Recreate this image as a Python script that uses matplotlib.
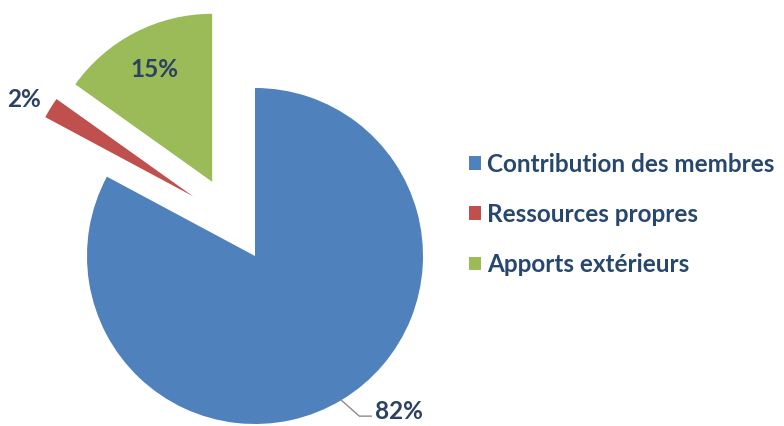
import numpy as np
import matplotlib.pyplot as plt

# Répartition des ressources (%)
categories = ['Contribution des membres', 'Ressources propres', 'Apports extérieurs']
valeurs = [82, 2, 15]
couleurs = ['#4F81BD', '#C0504D', '#9BBB59']
# décalage des secteurs détachés : (distance en fraction du rayon, direction en degrés)
decalage = [(0, 0), (0.51, 136), (0.51, 120)]

couleur_texte = '#2D4263'
couleur_legende = '#28476F'
police = ['Lato', 'DejaVu Sans']

fig = plt.figure(figsize=(7.84, 4.26), dpi=100)
ax = fig.add_axes([0, 0, 1, 1])

# Camembert en coordonnées pixels : centre (255, 170), rayon 168
rayon = 168
centre = (255, 170)
wedges, _ = ax.pie(valeurs, colors=couleurs, startangle=90, counterclock=False,
                   radius=rayon, center=centre, wedgeprops=dict(linewidth=0))
for w, (d, a) in zip(wedges, decalage):
    a = np.deg2rad(a)
    w.set_center((centre[0] + d * rayon * np.cos(a), centre[1] + d * rayon * np.sin(a)))

ax.set_xlim(0, 784)
ax.set_ylim(0, 426)
ax.set_aspect('equal')
ax.axis('off')

# Position le long de la bissectrice d'un secteur
def pos(w, frac, decal=0):
    ang = np.deg2rad((w.theta1 + w.theta2) / 2 + decal)
    cx, cy = w.center
    return cx + frac * w.r * np.cos(ang), cy + frac * w.r * np.sin(ang)

taille = 17.5

# 15 % à l'intérieur du secteur vert
x, y = pos(wedges[2], 0.75)
ax.text(x, y, f'{valeurs[2]}%', ha='center', va='center', fontsize=taille,
        fontweight='bold', color=couleur_texte, family=police)

# 2 % à l'extérieur du secteur rouge
x, y = pos(wedges[1], 1.16, 2)
ax.text(x, y, f'{valeurs[1]}%', ha='center', va='center', fontsize=taille,
        fontweight='bold', color=couleur_texte, family=police)

# 82 % avec trait de rappel
x0, y0 = pos(wedges[0], 1.0)
x1, y1 = x0 + 18, y0 - 16
x2 = x1 + 12
ax.plot([x0, x1, x2], [y0, y1, y1], color='#8C8C8C', linewidth=1)
ax.text(x2 + 4, y1 + 5, f'{valeurs[0]}%', ha='left', va='center', fontsize=taille,
        fontweight='bold', color=couleur_texte, family=police)

leg = ax.legend(wedges, categories, loc='center left', bbox_to_anchor=(0.577, 0.497),
                frameon=False, handlelength=0.48, handleheight=0.48, handletextpad=0.25,
                labelspacing=1.12, borderpad=0.2,
                prop=dict(family=police, weight='bold', size=taille))
for t in leg.get_texts():
    t.set_color(couleur_legende)

fig.savefig('out.png', dpi=100, facecolor='white')
